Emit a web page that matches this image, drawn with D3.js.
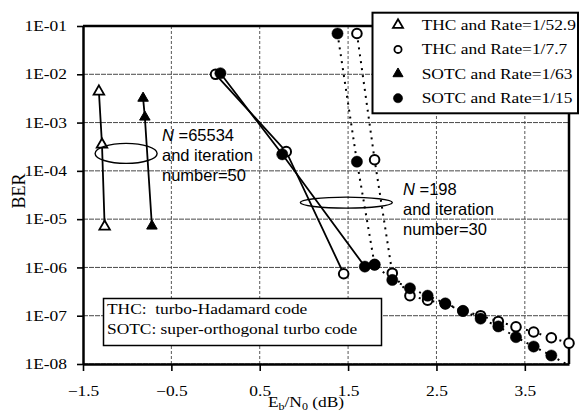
<!DOCTYPE html>
<html>
<head>
<meta charset="utf-8">
<script src="https://cdn.jsdelivr.net/npm/d3@7"></script>
<style>
  body { margin: 0; background: #fff; }
  svg { display: block; }
  .serif { font-family: "Liberation Serif", "Times New Roman", serif; }
  .sans { font-family: "Liberation Sans", Arial, sans-serif; }
</style>
</head>
<body>
<div id="chart"></div>
<script>
// Eb/N0 (dB) and BER values
const thc529X = [-1.32, -1.285, -1.255];
const thc529Y = [4.4e-3, 3.5e-4, 7.0e-6];

const sotc63X = [-0.82, -0.80, -0.72];
const sotc63Y = [3.2e-3, 1.3e-3, 7.2e-6];

// N=65534, 50 iterations (solid)
const thc77LongX = [0.0, 0.8, 1.45];
const thc77LongY = [1.0e-2, 2.5e-4, 7.4e-7];
const sotc15LongX = [0.055, 0.755, 1.69, 1.8];
const sotc15LongY = [1.05e-2, 2.2e-4, 1.04e-6, 1.14e-6];

// N=198, 30 iterations (dotted)
const thc77ShortX = [1.6, 1.8, 2.0, 2.2, 2.4, 2.6, 2.8, 3.0, 3.2, 3.4, 3.6, 3.8, 4.0];
const thc77ShortY = [7.0e-2, 1.7e-4, 7.6e-7, 2.6e-7, 2.1e-7, 1.75e-7, 1.25e-7, 1.0e-7, 7.6e-8, 5.9e-8, 4.6e-8, 3.5e-8, 2.7e-8];
const sotc15ShortX = [1.38, 1.6, 1.8, 2.0, 2.2, 2.4, 2.6, 2.8, 3.0, 3.2, 3.4, 3.6, 3.8, 4.0];
const sotc15ShortY = [7.0e-2, 1.55e-4, 1.14e-6, 5.5e-7, 3.7e-7, 2.6e-7, 1.8e-7, 1.26e-7, 8.7e-8, 6.0e-8, 3.6e-8, 2.3e-8, 1.5e-8, 9.3e-9];

const xTicks = [-1.5, -0.5, 0.5, 1.5, 2.5, 3.5];
const yTicks = [1e-1, 1e-2, 1e-3, 1e-4, 1e-5, 1e-6, 1e-7, 1e-8];
const yTickLabels = ["1E-01", "1E-02", "1E-03", "1E-04", "1E-05", "1E-06", "1E-07", "1E-08"];

const legendLabels = ["THC and Rate=1/52.9", "THC and Rate=1/7.7", "SOTC and Rate=1/63", "SOTC and Rate=1/15"];
const noteLines = ["THC:  turbo-Hadamard code", "SOTC: super-orthogonal turbo code"];

const width = 579, height = 416;
const margin = { top: 26, right: 10, bottom: 52, left: 83 };

const svg = d3.select("#chart").append("svg")
  .attr("width", width)
  .attr("height", height);

const x = d3.scaleLinear().domain([-1.5, 4.0]).range([margin.left, width - margin.right]);
const y = d3.scaleLog().domain([1e-8, 1e-1]).range([height - margin.bottom, margin.top]);

const SX = 1.2; // the scanned figure is stretched sideways

// grid
svg.append("g")
  .selectAll("line.h")
  .data(yTicks)
  .join("line")
  .attr("x1", margin.left).attr("x2", width - margin.right)
  .attr("y1", d => y(d)).attr("y2", d => y(d))
  .attr("stroke", "#333").attr("stroke-width", 0.9).attr("stroke-dasharray", "5,1");
svg.append("g")
  .selectAll("line.v")
  .data(xTicks.slice(1))
  .join("line")
  .attr("x1", d => x(d)).attr("x2", d => x(d))
  .attr("y1", margin.top).attr("y2", height - margin.bottom)
  .attr("stroke", "#444").attr("stroke-width", 0.9).attr("stroke-dasharray", "3,2");

// axes
const xAxis = svg.append("g")
  .attr("transform", `translate(0,${height - margin.bottom})`)
  .call(d3.axisBottom(x).tickValues(xTicks).tickFormat(d3.format(".1f")).tickSize(7).tickSizeOuter(0));
const yAxis = svg.append("g")
  .attr("transform", `translate(${margin.left},0)`)
  .call(d3.axisLeft(y).tickValues(yTicks).tickFormat((d, i) => yTickLabels[i]).tickSize(6).tickSizeOuter(0));

[xAxis, yAxis].forEach(a => {
  a.select(".domain").attr("stroke-width", 2.5);
  a.selectAll(".tick line").attr("stroke-width", 1.6);
  a.selectAll("text")
    .attr("class", "serif")
    .style("font-size", "14.5px")
    .attr("fill", "#000")
    .attr("transform", `scale(${SX},1)`);
});
yAxis.selectAll("text").attr("x", -16 / SX);
xAxis.selectAll("text").attr("y", 22);

// frame top and right
svg.append("path")
  .attr("d", `M${margin.left},${margin.top}H${width - margin.right}V${height - margin.bottom}`)
  .attr("fill", "none").attr("stroke", "#000").attr("stroke-width", 2.5);

// lines
const line = d3.line().x(d => x(d[0])).y(d => y(d[1]));
const zip = (xs, ys) => xs.map((v, i) => [v, ys[i]]);

const plot = svg.append("g");
plot.append("clipPath").attr("id", "clip")
  .append("rect")
  .attr("x", margin.left).attr("y", margin.top)
  .attr("width", width - margin.left - margin.right)
  .attr("height", height - margin.top - margin.bottom);

const solid = [zip(thc529X, thc529Y), zip(sotc63X, sotc63Y), zip(thc77LongX, thc77LongY), zip(sotc15LongX, sotc15LongY)];
const dotted = [zip(thc77ShortX, thc77ShortY), zip(sotc15ShortX, sotc15ShortY)];

plot.append("g").attr("clip-path", "url(#clip)")
  .selectAll("path")
  .data(solid)
  .join("path")
  .attr("d", line)
  .attr("fill", "none").attr("stroke", "#000").attr("stroke-width", 1.8);

plot.append("g").attr("clip-path", "url(#clip)")
  .selectAll("path")
  .data(dotted)
  .join("path")
  .attr("d", line)
  .attr("fill", "none").attr("stroke", "#000").attr("stroke-width", 2)
  .attr("stroke-dasharray", "2,5");

// markers
const inRange = d => d[1] >= 1e-8 && d[1] <= 1e-1;
const triangle = d3.symbol().type(d3.symbolTriangle).size(48);

function triangles(pts, filled) {
  plot.append("g").selectAll("path")
    .data(pts.filter(inRange))
    .join("path")
    .attr("d", triangle)
    .attr("transform", d => `translate(${x(d[0])},${y(d[1])})`)
    .attr("fill", filled ? "#000" : "#fff")
    .attr("stroke", "#000").attr("stroke-width", filled ? 1 : 1.8);
}
function circles(pts, filled) {
  plot.append("g").selectAll("circle")
    .data(pts.filter(inRange))
    .join("circle")
    .attr("cx", d => x(d[0])).attr("cy", d => y(d[1]))
    .attr("r", filled ? 5.6 : 4.8)
    .attr("fill", filled ? "#000" : "#fff")
    .attr("stroke", "#000").attr("stroke-width", filled ? 0.5 : 2);
}

triangles(zip(thc529X, thc529Y), false);
triangles(zip(sotc63X, sotc63Y), true);
circles(zip(thc77LongX, thc77LongY), false);
circles(zip(thc77ShortX, thc77ShortY), false);
circles(zip(sotc15LongX, sotc15LongY), true);
circles(zip(sotc15ShortX, sotc15ShortY), true);

// ellipses marking the two block sizes
svg.append("ellipse")
  .attr("cx", x(-1.012)).attr("cy", y(2.3e-4)).attr("rx", 31).attr("ry", 10)
  .attr("fill", "none").attr("stroke", "#000").attr("stroke-width", 1.4);
svg.append("ellipse")
  .attr("cx", x(1.48)).attr("cy", y(2.2e-5)).attr("rx", 46).attr("ry", 5.5)
  .attr("fill", "none").attr("stroke", "#000").attr("stroke-width", 1.4);

function note(x0, y0, n, iter) {
  const t = svg.append("text").attr("class", "sans")
    .attr("x", x0).attr("y", y0).style("font-size", "16.5px").attr("fill", "#000");
  t.append("tspan").style("font-style", "italic").text("N");
  t.append("tspan").text(" =" + n);
  svg.append("text").attr("class", "sans")
    .attr("x", x0).attr("y", y0 + 20).style("font-size", "16.5px").text("and iteration");
  svg.append("text").attr("class", "sans")
    .attr("x", x0).attr("y", y0 + 40).style("font-size", "16.5px").text("number=" + iter);
}
note(162, 140.5, "65534", 50);
note(403, 195, "198", 30);

// legend
const lg = svg.append("g");
lg.append("rect")
  .attr("x", 372.5).attr("y", 12.7).attr("width", 205.5).attr("height", 100.6)
  .attr("fill", "#fff").attr("stroke", "#000").attr("stroke-width", 2);
const legendRows = lg.selectAll("g.row")
  .data(legendLabels)
  .join("g")
  .attr("transform", (d, i) => `translate(398,${25 + i * 24.4})`);
legendRows.each(function (d, i) {
  const g = d3.select(this);
  const filled = i >= 2;
  if (i % 2 === 0) {
    g.append("path").attr("d", d3.symbol().type(d3.symbolTriangle).size(44))
      .attr("fill", filled ? "#000" : "#fff").attr("stroke", "#000").attr("stroke-width", filled ? 1 : 1.8);
  } else {
    g.append("circle").attr("r", filled ? 4.6 : 3.6)
      .attr("fill", filled ? "#000" : "#fff").attr("stroke", "#000").attr("stroke-width", filled ? 0.5 : 1.8);
  }
  g.append("text").attr("class", "serif")
    .attr("transform", `translate(23.7,5) scale(${SX},1)`)
    .style("font-size", "14.5px")
    .text(d);
});

// definitions box
svg.append("rect")
  .attr("x", 103.5).attr("y", 298.5).attr("width", 278).attr("height", 47)
  .attr("fill", "#fff").attr("stroke", "#000").attr("stroke-width", 1.5);
noteLines.forEach((s, i) => {
  svg.append("text").attr("class", "serif")
    .attr("transform", `translate(107,${313.5 + i * 20}) scale(${SX},1)`)
    .style("font-size", "14.5px").style("white-space", "pre")
    .attr("xml:space", "preserve")
    .text(s);
});

// axis titles
svg.append("text").attr("class", "serif")
  .attr("transform", "translate(25,191) rotate(-90)")
  .attr("text-anchor", "middle")
  .style("font-size", "18px")
  .text("BER");

const xt = svg.append("text").attr("class", "serif")
  .attr("transform", `translate(306,407) scale(${SX},1)`)
  .attr("text-anchor", "middle")
  .style("font-size", "14.5px");
xt.append("tspan").text("E");
xt.append("tspan").attr("dy", 3).style("font-size", "10px").text("b");
xt.append("tspan").attr("dy", -3).text("/N");
xt.append("tspan").attr("dy", 3).style("font-size", "10px").text("0");
xt.append("tspan").attr("dy", -3).text(" (dB)");
</script>
</body>
</html>
